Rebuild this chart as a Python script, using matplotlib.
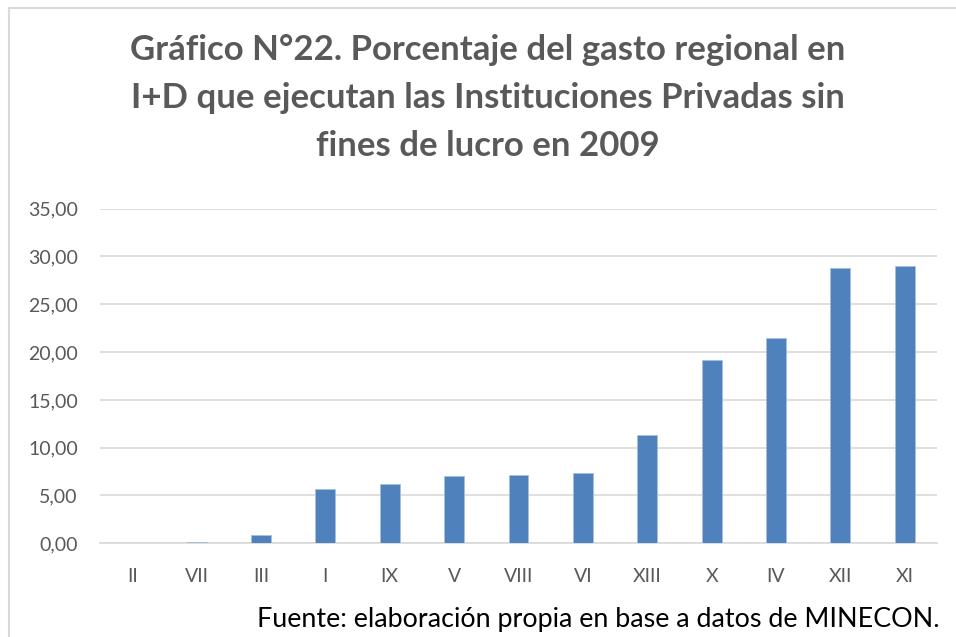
import matplotlib
matplotlib.use("Agg")
import matplotlib.pyplot as plt
from matplotlib.lines import Line2D
import matplotlib.ticker as ticker

regiones = ["II", "VII", "III", "I", "IX", "V", "VIII", "VI", "XIII", "X", "IV", "XII", "XI"]
porcentaje = [0.0, 0.17, 0.9, 5.71, 6.2, 7.07, 7.14, 7.39, 11.3, 19.17, 21.47, 28.76, 29.0]
y_ticks = [0, 5, 10, 15, 20, 25, 30, 35]

TITLE = ("Gráfico N°22. Porcentaje del gasto regional en\n"
         "I+D que ejecutan las Instituciones Privadas sin\n"
         "fines de lucro en 2009")
SOURCE = "Fuente: elaboración propia en base a datos de MINECON."

GRAY = "#595959"
BLUE = "#4F81BD"

plt.rcParams["font.family"] = ["Lato", "DejaVu Sans"]

fig = plt.figure(figsize=(9.56, 6.37), dpi=100)
ax = fig.add_axes([100 / 956, 1 - 543.3 / 637, 837 / 956, 334.6 / 637])

x = range(len(regiones))
ax.bar(x, porcentaje, width=0.31, color=BLUE, edgecolor="#A7BFDE", linewidth=0.6, zorder=3)

ax.set_xlim(-0.5, len(regiones) - 0.5)
ax.set_ylim(0, 35)
ax.set_yticks(y_ticks)
ax.yaxis.set_major_formatter(ticker.FuncFormatter(lambda v, p: f"{v:.2f}".replace(".", ",")))
ax.set_xticks(list(x))
ax.set_xticklabels(regiones)
ax.tick_params(axis="both", length=0, labelsize=14, labelcolor=GRAY)
ax.tick_params(axis="y", pad=16)
ax.tick_params(axis="x", pad=18)
ax.grid(axis="y", color="#D9D9D9", linewidth=1.2, zorder=0)
for s in ["top", "right", "left"]:
    ax.spines[s].set_visible(False)
ax.spines["bottom"].set_color("#D9D9D9")
ax.spines["bottom"].set_linewidth(1.2)

fig.text(488 / 956, 1 - 98 / 637, TITLE, ha="center", va="center", fontsize=25,
         fontweight="bold", color=GRAY, linespacing=1.6)
fig.text(940 / 956, 1 - 619 / 637, SOURCE, ha="right", va="center", fontsize=19.4, color="black")

# chart frame (left and top edges visible)
fig.add_artist(Line2D([8.5 / 956, 8.5 / 956], [0, 1 - 7.5 / 637], transform=fig.transFigure,
                      color="#D9D9D9", linewidth=1.5))
fig.add_artist(Line2D([8.5 / 956, 1], [1 - 7.5 / 637, 1 - 7.5 / 637], transform=fig.transFigure,
                      color="#D9D9D9", linewidth=1.5))

fig.savefig("out.png", dpi=100)
